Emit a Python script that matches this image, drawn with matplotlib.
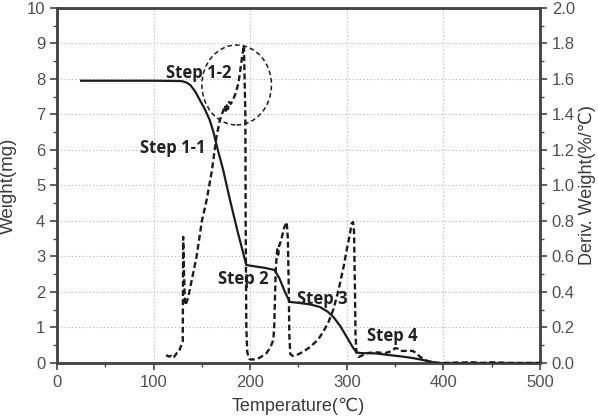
import matplotlib
matplotlib.use("Agg")
import matplotlib.pyplot as plt
from matplotlib.patches import Ellipse
from matplotlib.ticker import MultipleLocator

plt.rcParams["font.family"] = ["Liberation Sans", "DejaVu Sans"]

# TG weight curve (temperature in C, weight in mg)
weight_t = [25, 60, 100, 129, 134, 138, 143, 148, 153, 158, 162, 166, 172,
            179, 187, 196, 205, 215, 225, 230, 236, 241, 251, 262, 272, 280,
            286, 293, 300, 306, 310, 314, 330, 345, 358, 368, 376, 383, 390,
            395, 420, 500]
weight_mg = [7.95, 7.95, 7.95, 7.94, 7.9, 7.83, 7.65, 7.4, 7.15, 6.85, 6.5,
             6.05, 5.44, 4.6, 3.7, 2.76, 2.72, 2.68, 2.62, 2.4, 2.0, 1.72,
             1.69, 1.65, 1.58, 1.45, 1.3, 1.05, 0.73, 0.45, 0.3, 0.28, 0.27,
             0.22, 0.18, 0.14, 0.1, 0.06, 0.02, 0.0, 0.0, 0.0]

# DTG curve (temperature in C, deriv. weight in %/C)
deriv_t = [113, 116, 118, 120, 122, 124, 126, 128, 130.2, 130.6, 131.5, 132.5,
           134, 136, 140, 144.5, 150, 155, 160.5, 165, 168.7, 172, 174, 175,
           176, 177, 178, 180, 182, 185, 188, 190, 191.5, 193.5, 195, 195.3,
           196, 197, 199, 200, 205, 210, 217, 221, 224, 225, 225.6, 226.6,
           228, 229, 230, 232, 235, 237.8, 239, 240, 240.5, 241.5, 244, 248,
           255, 262, 270, 275, 281, 286, 290, 293, 297, 300, 303, 305, 306.5,
           307.5, 308.5, 309, 310, 312, 315, 321, 330, 340, 347, 350, 353,
           355, 362, 368.5, 372, 376, 383, 390, 400, 430, 440, 450, 470, 500]
deriv_pct = [0.044, 0.036, 0.04, 0.028, 0.04, 0.056, 0.06, 0.09, 0.12, 0.71,
             0.5, 0.326, 0.34, 0.374, 0.48, 0.6, 0.8, 0.92, 1.088, 1.272,
             1.37, 1.42, 1.45, 1.41, 1.46, 1.43, 1.47, 1.46, 1.48, 1.52, 1.58,
             1.66, 1.72, 1.79, 1.4, 0.8, 0.2, 0.06, 0.024, 0.02, 0.02, 0.03,
             0.056, 0.09, 0.13, 0.22, 0.36, 0.54, 0.64, 0.61, 0.66, 0.69, 0.76,
             0.794, 0.7, 0.4, 0.16, 0.05, 0.04, 0.044, 0.064, 0.09, 0.13, 0.17,
             0.23, 0.3, 0.38, 0.45, 0.55, 0.64, 0.72, 0.786, 0.794, 0.74, 0.4,
             0.16, 0.06, 0.034, 0.04, 0.056, 0.06, 0.056, 0.068, 0.084, 0.08,
             0.068, 0.068, 0.068, 0.054, 0.034, 0.012, 0.002, 0.0, 0.004, 0.0,
             0.004, 0.0, 0.0]

step_labels = ["Step 1-2", "Step 1-1", "Step 2", "Step 3", "Step 4"]
step_x = [147, 120, 193, 275, 347]
step_y = [8.17, 6.05, 2.37, 1.8, 0.76]

line_col = "#1c1c1c"
axis_col = "#444444"
text_col = "#3a3a3a"

fig = plt.figure(figsize=(5.98, 4.17), dpi=100)
ax = fig.add_axes([0.0953, 0.1295, 0.8077, 0.8515])
ax2 = ax.twinx()

ax.plot(weight_t, weight_mg, color=line_col, lw=1.6, zorder=3)
ax2.plot(deriv_t, deriv_pct, color=line_col, lw=1.7,
         linestyle=(0, (2.5, 1.4)), zorder=3)

ax.set_xlim(0, 500)
ax.set_ylim(0, 10)
ax2.set_ylim(0, 2.0)

ax.xaxis.set_major_locator(MultipleLocator(100))
ax.xaxis.set_minor_locator(MultipleLocator(50))
ax.yaxis.set_major_locator(MultipleLocator(1))
ax.yaxis.set_minor_locator(MultipleLocator(0.5))
ax2.yaxis.set_major_locator(MultipleLocator(0.2))
ax2.yaxis.set_minor_locator(MultipleLocator(0.1))
ax2.set_yticklabels([f"{v:.1f}" for v in ax2.get_yticks()])

ax.grid(True, which="major", linestyle=(0, (1.2, 2)), color="#c0c0c0",
        lw=0.8)

for a in (ax, ax2):
    for s in a.spines.values():
        s.set_color(axis_col)
        s.set_linewidth(1.8)
    a.tick_params(which="major", direction="out", length=5, width=1.2,
                  color=axis_col, labelsize=12, labelcolor="#505050")
    a.tick_params(which="minor", direction="out", length=3, width=1.0,
                  color=axis_col)

# dashed circle around step 1-2 peak
ax.add_patch(Ellipse((186, 7.83), 72, 2.25, fill=False, edgecolor=line_col,
                     lw=1.1, linestyle=(0, (3, 2)), zorder=4))

for lab, x, y in zip(step_labels, step_x, step_y):
    ax.text(x, y, lab, ha="center", va="center", fontsize=12,
            fontweight="bold", family=["Open Sans", "DejaVu Sans"],
            color="#222222", zorder=5)

ax.set_xlabel("Temperature(℃)", fontsize=13, color=text_col, labelpad=6)
ax.set_ylabel("Weight(mg)", fontsize=13.5, color=text_col, labelpad=7)
ax2.set_ylabel("Deriv. Weight(%/℃)", fontsize=13, color=text_col,
               labelpad=3)

fig.savefig("out.png", dpi=100)
